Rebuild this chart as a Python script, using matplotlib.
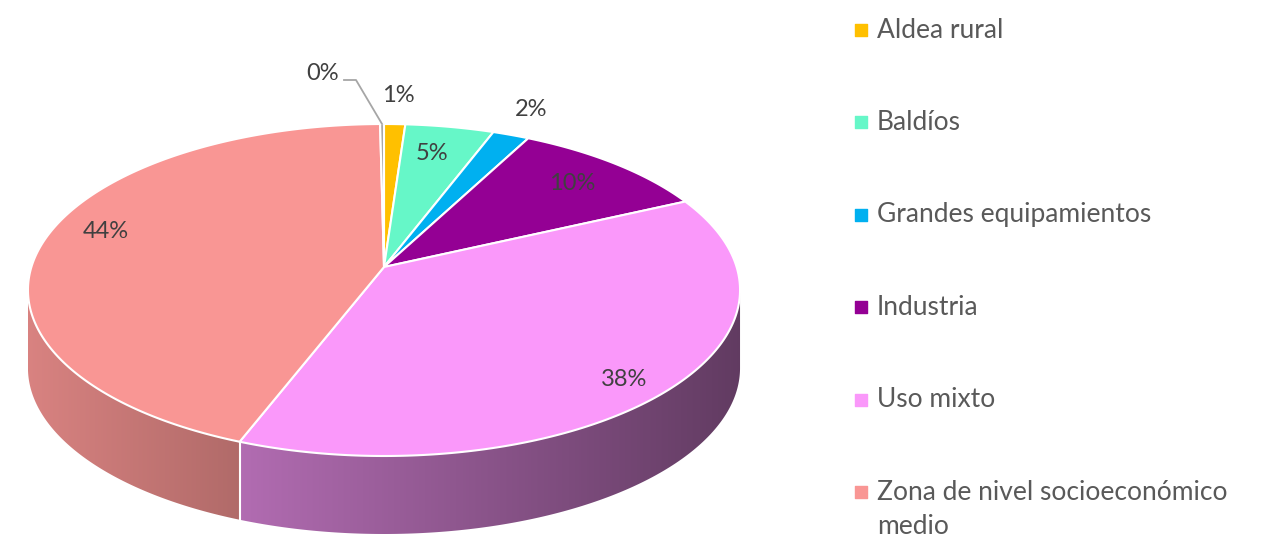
import numpy as np
import matplotlib.pyplot as plt
from matplotlib.patches import Polygon
from matplotlib.colors import to_rgb

plt.rcParams['font.family'] = ['Lato', 'DejaVu Sans']

categories = ["Aldea rural", "Baldíos", "Grandes equipamientos", "Industria",
              "Uso mixto", "Zona de nivel socioeconómico\nmedio", "Otros"]
shares = [1.1, 4.6, 1.9, 10.4, 37.8, 44.0, 0.2]
colors = ["#FFC000", "#66F7C8", "#00B0F0", "#940094", "#FA98FA", "#F99694", "#A5A5A5"]

# label centres in pixels (layout only)
label_pos = [(398, 95), (432, 153), (531, 109), (572, 183), (624, 379), (106, 231), (323, 73)]

# perspective disc: centre, radii, foreshortening, thickness
cx, cy = 384, 267
A, B, k = 352.6, 162.8, 0.1386
depth = 78


def proj(phi, r=1.0, dz=0.0):
    u = r * np.sin(phi)
    v = r * np.cos(phi)
    w = 1 + k * v
    return cx + A * u / w, cy - B * v / w + dz


def shade(x):
    return np.interp(x, [28, 240, 740], [0.87, 0.71, 0.39])


fig = plt.figure(figsize=(12.78, 5.37), dpi=100)
ax = fig.add_axes([0, 0, 1, 1])
ax.set_xlim(0, 1278)
ax.set_ylim(537, 0)
ax.axis("off")

frac = np.array(shares) / sum(shares)
edges = np.concatenate([[0], np.cumsum(frac)]) * 2 * np.pi
phi_r = np.arccos(-k)
phi_l = 2 * np.pi - phi_r

# visible side walls with a left-to-right light gradient
for i, c in enumerate(colors):
    a = max(edges[i], phi_r)
    b = min(edges[i + 1], phi_l)
    if b <= a:
        continue
    t = np.linspace(a, b, 200)
    xt, yt = proj(t)
    xb, yb = proj(t[::-1], dz=depth)
    pts = np.column_stack([np.concatenate([xt, xb]), np.concatenate([yt, yb])])
    poly = Polygon(pts, closed=True, facecolor="none", edgecolor="none")
    ax.add_patch(poly)
    x0, x1 = pts[:, 0].min(), pts[:, 0].max()
    xs = np.linspace(x0, x1, 300)
    rgb = np.array(to_rgb(c))
    img = (shade(xs)[:, None] * rgb[None, :])[None, :, :]
    im = ax.imshow(img, extent=(x0, x1, pts[:, 1].max(), pts[:, 1].min()),
                   aspect="auto", interpolation="bilinear", zorder=1)
    im.set_clip_path(poly)

# white seams between wall segments
for e in edges[1:-1]:
    if phi_r < e < phi_l:
        xa, ya = proj(e)
        xb, yb = proj(e, dz=depth)
        ax.plot([xa, xb], [ya, yb], color="white", lw=1.5, zorder=2)

# top face
for i, c in enumerate(colors):
    t = np.linspace(edges[i], edges[i + 1], max(4, int(frac[i] * 600)))
    xt, yt = proj(t)
    pts = np.column_stack([np.concatenate([[cx], xt]), np.concatenate([[cy], yt])])
    ax.add_patch(Polygon(pts, closed=True, facecolor=c, edgecolor="white",
                         lw=1.5, joinstyle="round", zorder=3))

# data labels
for s, (lx, ly) in zip(shares, label_pos):
    ax.text(lx, ly, f"{round(s)}%", fontsize=17, color="#404040",
            ha="center", va="center", zorder=5)

# leader line for the smallest slice
xe, ye = proj(edges[-2] + frac[-1] * np.pi)
ax.plot([344, 356, xe], [80, 80, ye], color="#A6A6A6", lw=1.3, zorder=4)

# legend (wrapped names continue on a second line below the marker row)
for i, (name, c) in enumerate(zip(categories[:6], colors[:6])):
    y = 30 + 92.4 * i
    ax.scatter([861], [y], marker="s", s=75, color=c, zorder=5)
    for j, line in enumerate(name.split("\n")):
        ax.text(877, y + 34 * j, line, fontsize=19, color="#595959",
                ha="left", va="center", zorder=5)

fig.savefig("out.png", dpi=100)
